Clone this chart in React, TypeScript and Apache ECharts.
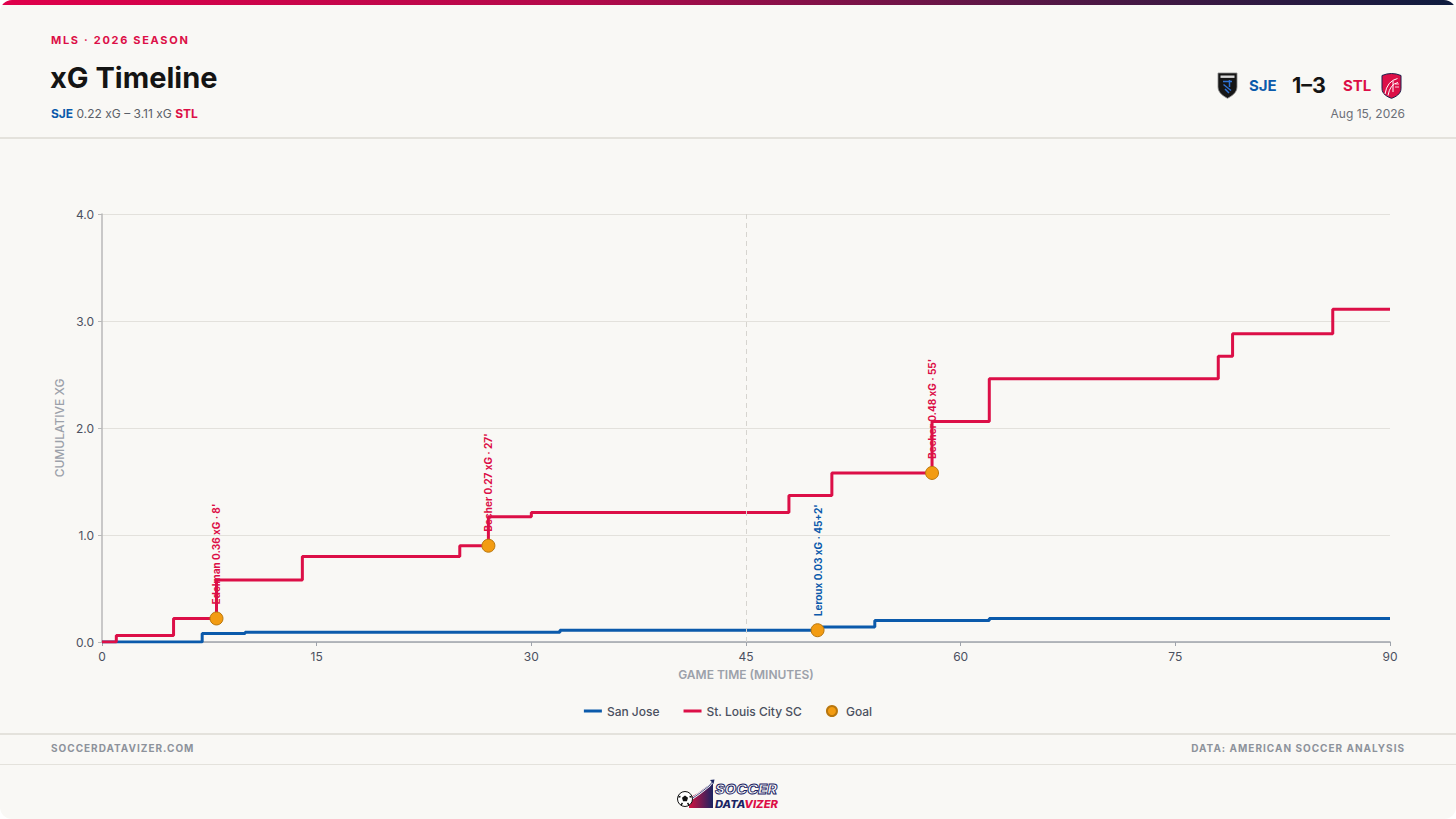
import { useEffect, useRef } from 'react'
import * as echarts from 'echarts'

// Palette
const RED = '#dc0f47'
const BLUE = '#0b5aab'
const GOAL_FILL = '#f39c12'
const GOAL_EDGE = '#b9770e'
const BG = '#f9f8f5'
const RULE = '#e4e2dc'
const AXIS_TEXT = '#4b5060'
const MUTED = '#9ca1aa'
const FONT = 'Inter, "Noto Sans", sans-serif'

// Cumulative xG, step points (minute on the plotted game clock, running total)
const SJE_MINUTES = [0, 7, 10, 32, 50, 54, 62, 90]
const SJE_XG = [0, 0.08, 0.09, 0.11, 0.14, 0.2, 0.22, 0.22]
const STL_MINUTES = [0, 1, 5, 8, 14, 25, 27, 30, 48, 51, 58, 62, 78, 79, 86, 90]
const STL_XG = [0, 0.06, 0.22, 0.58, 0.8, 0.9, 1.17, 1.21, 1.37, 1.58, 2.06, 2.46, 2.67, 2.88, 3.11, 3.11]

// Goals: plotted at the total before the scoring shot
const GOAL_MINUTES = [8, 27, 50, 58]
const GOAL_XG = [0.22, 0.9, 0.11, 1.58]
const GOAL_TEAMS = ['STL', 'STL', 'SJE', 'STL']
const GOAL_LABELS = ["Edelman 0.36 xG · 8'", "Becher 0.27 xG · 27'", "Leroux 0.03 xG · 45+2'", "Becher 0.48 xG · 55'"]

const X_MAX = 90
const X_STEP = 15
const Y_MAX = 4
const Y_STEP = 1
const HALF_TIME = 45

const zip = (xs: number[], ys: number[]) => xs.map((x, i) => [x, ys[i]])

function buildOption(): echarts.EChartsOption {
  return {
    animation: false,
    backgroundColor: 'transparent',
    textStyle: { fontFamily: FONT },
    grid: { left: 102, right: 66, top: 214, bottom: 177, containLabel: false },
    legend: {
      left: 'center',
      top: 700,
      itemWidth: 18,
      itemHeight: 10,
      itemGap: 24,
      textStyle: { color: AXIS_TEXT, fontSize: 12, fontWeight: 500, fontFamily: FONT },
      data: [
        { name: 'San Jose', icon: 'path://M0 0h18v3H0z' },
        { name: 'St. Louis City SC', icon: 'path://M0 0h18v3H0z' },
        { name: 'Goal', icon: 'circle' },
      ],
    },
    xAxis: {
      type: 'value',
      min: 0,
      max: X_MAX,
      interval: X_STEP,
      name: 'GAME TIME (MINUTES)',
      nameLocation: 'middle',
      nameGap: 26,
      nameTextStyle: { color: MUTED, fontSize: 12, fontWeight: 600, fontFamily: FONT },
      axisLine: { lineStyle: { color: '#9ea3ab', width: 1.5 } },
      axisTick: { show: true, length: 4, lineStyle: { color: '#9ea3ab' } },
      axisLabel: { color: AXIS_TEXT, fontSize: 12, margin: 8 },
      splitLine: { show: false },
    },
    yAxis: {
      type: 'value',
      min: 0,
      max: Y_MAX,
      interval: Y_STEP,
      name: 'CUMULATIVE XG',
      nameLocation: 'middle',
      nameGap: 31,
      nameTextStyle: { color: MUTED, fontSize: 12, fontWeight: 500, fontFamily: FONT },
      axisLine: { show: true, lineStyle: { color: '#b9b9b9', width: 1.5 } },
      axisTick: { show: true, length: 4, lineStyle: { color: '#b9b9b9' } },
      axisLabel: { color: AXIS_TEXT, fontSize: 12, margin: 8, formatter: (v: number) => v.toFixed(1) },
      splitLine: { lineStyle: { color: '#e3e1dc', width: 1 } },
    },
    series: [
      {
        name: 'San Jose',
        type: 'line',
        step: 'end',
        symbol: 'none',
        data: zip(SJE_MINUTES, SJE_XG),
        lineStyle: { color: BLUE, width: 3 },
        itemStyle: { color: BLUE },
        z: 2,
        markLine: {
          silent: true,
          symbol: 'none',
          label: { show: false },
          lineStyle: { color: '#d6d4cf', type: [5, 4], width: 1 },
          data: [{ xAxis: HALF_TIME }],
        },
      },
      {
        name: 'St. Louis City SC',
        type: 'line',
        step: 'end',
        symbol: 'none',
        data: zip(STL_MINUTES, STL_XG),
        lineStyle: { color: RED, width: 3 },
        itemStyle: { color: RED },
        z: 3,
      },
      {
        name: 'Goal',
        type: 'scatter',
        symbol: 'circle',
        symbolSize: 13,
        itemStyle: { color: GOAL_FILL, borderColor: GOAL_EDGE, borderWidth: 1, opacity: 1 },
        z: 5,
        label: {
          show: true,
          position: 'top',
          distance: 7,
          rotate: 90,
          align: 'left',
          verticalAlign: 'middle',
          formatter: '{b}',
          fontSize: 10,
          fontWeight: 700,
          fontFamily: FONT,
        },
        data: GOAL_MINUTES.map((m, i) => ({
          name: GOAL_LABELS[i],
          value: [m, GOAL_XG[i]],
          label: { color: GOAL_TEAMS[i] === 'SJE' ? BLUE : RED },
        })),
      },
    ],
  }
}

function SjShield() {
  return (
    <svg width={21} height={27} viewBox="0 0 21 27" style={{ position: 'absolute', left: 1217, top: 72 }}>
      <path d="M1 1H20V15C20 21 14 24.5 10.5 26.3C7 24.5 1 21 1 15Z" fill="#161616" stroke="#8c8c8c" strokeWidth={0.8} />
      <rect x={3.5} y={3.5} width={14} height={2.4} fill="#d9d9d9" />
      <path d="M6 9.5H15M12.5 8V15M6.5 12.5L14 18.5M8 17L12 21" stroke="#2f72d4" strokeWidth={1.5} fill="none" />
    </svg>
  )
}

function StlCrest() {
  return (
    <svg width={21} height={27} viewBox="0 0 21 27" style={{ position: 'absolute', left: 1381, top: 72 }}>
      <path d="M1 3.5Q10.5 -0.5 20 3.5V16.5C20 22 14.5 25 10.5 26.3C6.5 25 1 22 1 16.5Z" fill={RED} stroke="#1b1f4a" strokeWidth={1} />
      <path d="M4 22Q6 9 16.5 6.5M7 23.5Q9 12 17 10.5M12 9V20" stroke="#ffffff" strokeWidth={1} fill="none" />
      <path d="M14 12H18M14 15H18" stroke="#ffffff" strokeWidth={0.8} />
    </svg>
  )
}

function DatavizerLogo() {
  return (
    <svg width={106} height={32} viewBox="0 0 106 32" style={{ position: 'absolute', left: 676, top: 778 }}>
      <defs>
        <linearGradient id="bars" x1="0" y1="0" x2="1" y2="0">
          <stop offset="0" stopColor="#d3123f" />
          <stop offset="1" stopColor="#1b2463" />
        </linearGradient>
      </defs>
      <path d="M13 30L13 20L22 15L30 9L37 5L37 30Z" fill="url(#bars)" />
      <path d="M14 22L24 15L33 8L37 3" stroke="#ffffff" strokeWidth={2.2} fill="none" />
      <path d="M14 22L24 15L33 8L37 3" stroke="#1b2463" strokeWidth={0.8} fill="none" />
      <path d="M34 2L38.5 1.5L37.5 6Z" fill="#1b2463" />
      <circle cx={9} cy={21} r={7.5} fill="#ffffff" stroke="#111" strokeWidth={1} />
      <path d="M9 17.5L12 19.7L10.9 23.2H7.1L6 19.7Z" fill="#111" />
      <path d="M2.5 19L4.5 18.5M15.5 19L13.5 18.5M5 27L6.5 25M13 27L11.5 25" stroke="#111" strokeWidth={1.4} />
      <text x={39} y={16} fontFamily={FONT} fontSize={13.5} fontWeight={800} fontStyle="italic" fill="#ffffff" stroke="#1b2463" strokeWidth={0.9} textLength={62} lengthAdjust="spacingAndGlyphs">SOCCER</text>
      <text x={39} y={29.5} fontFamily={FONT} fontSize={10} fontWeight={800} fontStyle="italic" textLength={63} lengthAdjust="spacingAndGlyphs">
        <tspan fill="#1b2463">DATA</tspan>
        <tspan fill={RED}>VIZER</tspan>
      </text>
    </svg>
  )
}

export default function App() {
  const ref = useRef<HTMLDivElement>(null)

  useEffect(() => {
    const el = ref.current
    if (!el) return
    const chart = echarts.init(el, undefined, { renderer: 'svg' })
    chart.setOption(buildOption())
    return () => chart.dispose()
  }, [])

  const abs = (pos: React.CSSProperties, extra: React.CSSProperties = {}): React.CSSProperties => ({
    position: 'absolute',
    lineHeight: 1,
    whiteSpace: 'nowrap',
    ...pos,
    ...extra,
  })

  return (
    <div style={{ position: 'fixed', left: 0, top: 0, width: 1456, height: 819, background: '#ffffff', fontFamily: FONT }}>
      <div style={{ position: 'absolute', left: 0, top: 0, width: 1456, height: 819, borderRadius: 12, overflow: 'hidden', background: BG }}>
        <div style={{ position: 'absolute', left: 0, top: 0, width: 1456, height: 5, background: 'linear-gradient(90deg, #e0004b 0%, #b30a4a 40%, #5a1746 70%, #0e1c3e 100%)' }} />
        <div ref={ref} style={{ position: 'absolute', left: 0, top: 0, width: 1456, height: 819 }} />

        {/* header */}
        <div style={abs({ left: 51, top: 34.5 }, { fontSize: 11, fontWeight: 700, letterSpacing: 1.7, color: RED })}>MLS · 2026 SEASON</div>
        <div style={abs({ left: 50, top: 62.5 }, { fontSize: 29, fontWeight: 700, color: '#141414' })}>xG Timeline</div>
        <div style={abs({ left: 51, top: 107.6 }, { fontSize: 12, color: '#5b5f68' })}>
          <span style={{ color: BLUE, fontWeight: 700 }}>SJE</span> 0.22 xG – 3.11 xG <span style={{ color: RED, fontWeight: 700 }}>STL</span>
        </div>

        <SjShield />
        <div style={abs({ left: 1249, top: 78 }, { fontSize: 15, fontWeight: 700, color: BLUE })}>SJE</div>
        <div style={abs({ left: 1292, top: 74.5 }, { fontSize: 21.5, fontWeight: 700, color: '#141414' })}>1–3</div>
        <div style={abs({ left: 1343, top: 78 }, { fontSize: 15, fontWeight: 700, color: RED })}>STL</div>
        <StlCrest />
        <div style={abs({ right: 51, top: 107.6 }, { fontSize: 12, color: '#6b6f78' })}>Aug 15, 2026</div>

        <div style={{ position: 'absolute', left: 0, top: 137, width: 1456, height: 1.5, background: RULE }} />

        {/* footer */}
        <div style={{ position: 'absolute', left: 0, top: 733, width: 1456, height: 1.5, background: RULE }} />
        <div style={abs({ left: 51, top: 743.4 }, { fontSize: 10, fontWeight: 700, letterSpacing: 1, color: '#8d929b' })}>SOCCERDATAVIZER.COM</div>
        <div style={abs({ right: 51, top: 743.4 }, { fontSize: 10, fontWeight: 700, letterSpacing: 1, color: '#8d929b' })}>DATA: AMERICAN SOCCER ANALYSIS</div>
        <div style={{ position: 'absolute', left: 0, top: 763.5, width: 1456, height: 1.5, background: RULE }} />
        <DatavizerLogo />
      </div>
    </div>
  )
}
